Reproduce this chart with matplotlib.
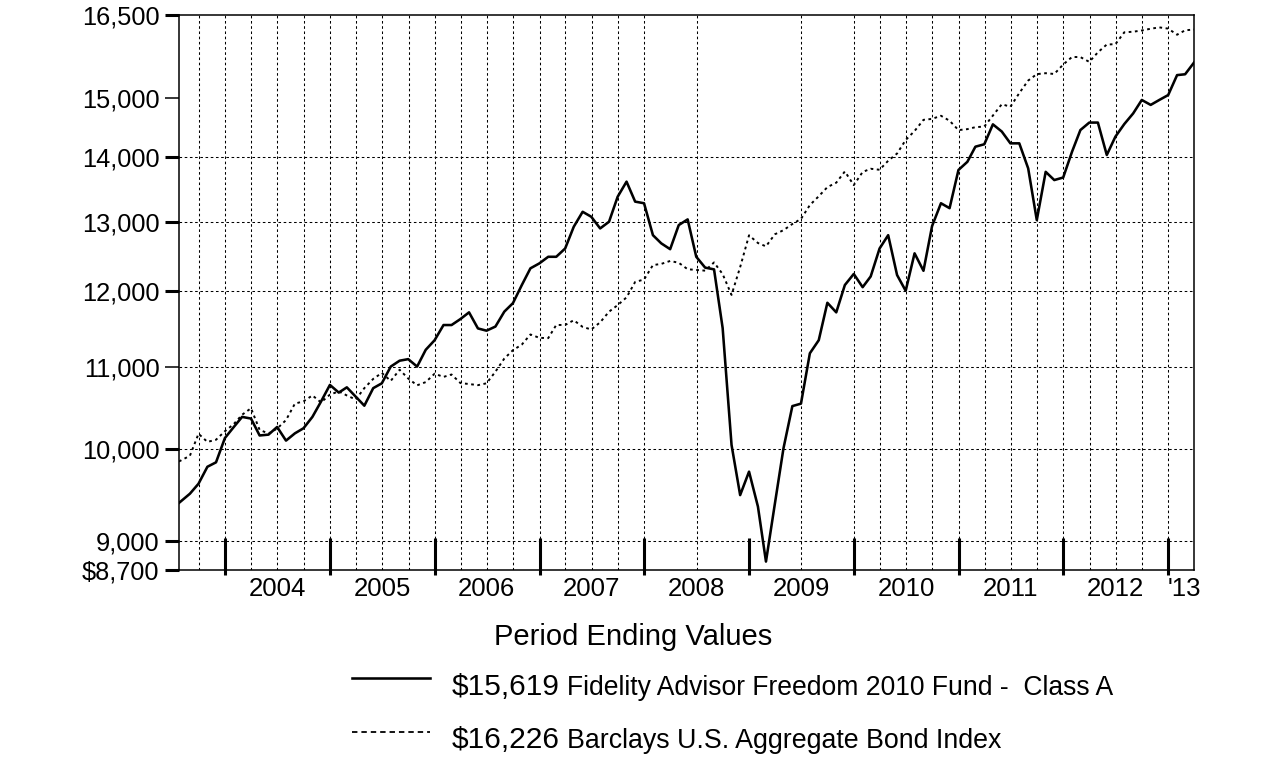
"""
Fidelity Advisor Freedom 2010 Fund - Class A と Barclays U.S. Aggregate Bond Index の
$10,000 投資の推移（対数目盛）を再現する。
"""

import matplotlib

matplotlib.use("Agg")
import matplotlib.pyplot as plt
import pandas as pd
from matplotlib.lines import Line2D
from matplotlib.ticker import NullLocator

plt.rcParams["font.family"] = ["Liberation Sans", "DejaVu Sans"]

# 期間: 設定日 2003-07-24 のあと、2003年8月〜2013年3月の月末
START_DATE = "2003-07-24"
END_DATE = "2013-03-31"

fund_values = [
    9400,
    9500, 9610, 9800, 9850, 10130,
    10260, 10380, 10360, 10160, 10170, 10260, 10100, 10185, 10245, 10380, 10565, 10770,
    10675, 10740, 10625, 10515, 10730, 10790, 11000, 11075, 11095, 11000, 11215, 11340,
    11540, 11540, 11620, 11710, 11495, 11465, 11520, 11720, 11835, 12085, 12320, 12390,
    12485, 12485, 12605, 12925, 13150, 13075, 12900, 13000, 13380, 13615, 13305, 13280,
    12800, 12680, 12595, 12950, 13035, 12485, 12330, 12305, 11500, 10050, 9485, 9745,
    9360, 8785, 9390, 10010, 10510, 10540, 11170, 11340, 11840, 11710, 12085, 12240,
    12055, 12205, 12605, 12800, 12225, 12005, 12535, 12285, 12935, 13280, 13205, 13800,
    13930, 14175, 14215, 14545, 14425, 14230, 14230, 13825, 13025, 13770, 13640, 13680,
    14095, 14450, 14575, 14575, 14040, 14340, 14550, 14730, 14960, 14875, 14960, 15045,
    15395, 15410, 15619,
]

index_values = [
    9860,
    9925, 10180, 10085, 10110, 10210,
    10295, 10406, 10484, 10226, 10183, 10241, 10342, 10540, 10568, 10640, 10555, 10650,
    10690, 10640, 10590, 10730, 10845, 10920, 10820, 10960, 10850, 10765, 10805, 10910,
    10870, 10900, 10793, 10781, 10767, 10790, 10936, 11103, 11210, 11283, 11415, 11371,
    11367, 11541, 11541, 11604, 11515, 11481, 11576, 11719, 11808, 11914, 12128, 12162,
    12366, 12383, 12425, 12399, 12307, 12297, 12287, 12404, 12238, 11948, 12337, 12798,
    12685, 12636, 12813, 12874, 12966, 13042, 13252, 13388, 13529, 13599, 13776, 13561,
    13768, 13819, 13803, 13947, 14064, 14285, 14434, 14621, 14637, 14690, 14606, 14449,
    14465, 14498, 14508, 14693, 14887, 14843, 15079, 15299, 15412, 15429, 15415, 15584,
    15721, 15718, 15632, 15805, 15948, 15954, 16174, 16185, 16208, 16241, 16266, 16243,
    16129, 16211, 16226,
]

y_ticks = [8700, 9000, 10000, 11000, 12000, 13000, 14000, 15000, 16500]
y_tick_labels = ["$8,700", "9,000", "10,000", "11,000", "12,000", "13,000",
                 "14,000", "15,000", "16,500"]
thin_y_ticks = [11000, 15000]
y_grid_values = [9000, 10000, 11000, 12000, 13000, 14000]

year_labels = ["2004", "2005", "2006", "2007", "2008", "2009",
               "2010", "2011", "2012", "'13"]
year_label_dates = [f"{y}-07-01" for y in range(2004, 2013)] + ["2013-02-25"]
year_tick_dates = [f"{y}-01-01" for y in range(2004, 2014)]
# 2008〜2009 は縦グリッドが半年おき
skipped_grid_dates = ["2008-04-01", "2008-10-01", "2009-01-01", "2009-04-01", "2009-10-01"]

fund_label = "Fidelity Advisor Freedom 2010 Fund -  Class A"
index_label = "Barclays U.S. Aggregate Bond Index"
fund_end_text = "$15,619"
index_end_text = "$16,226"

W, H = 1276, 783


def fx(px):
    return px / W


def fy(py):
    return 1 - py / H


def main():
    dates = pd.DatetimeIndex([pd.Timestamp(START_DATE)]).append(
        pd.date_range("2003-08-31", END_DATE, freq="ME"))

    fig = plt.figure(figsize=(W / 100, H / 100), dpi=100)
    ax = fig.add_axes([fx(179), fy(570), (1194 - 179) / W, (570 - 15) / H])

    # グリッド
    for v in y_grid_values:
        ax.axhline(v, color="black", lw=0.75, dashes=(2.5, 2.5), zorder=1)
    skipped = set(pd.to_datetime(skipped_grid_dates))
    for d in pd.date_range("2003-10-01", "2013-01-01", freq="QS"):
        if d not in skipped:
            ax.axvline(d, color="black", lw=0.75, dashes=(2.5, 2.5), zorder=1)

    ax.plot(dates, index_values, color="black", lw=1.4, dashes=(1.4, 1.8), zorder=3)
    ax.plot(dates, fund_values, color="black", lw=1.85, zorder=4)

    ax.set_yscale("log")
    ax.set_ylim(8700, 16500)
    ax.set_xlim(pd.Timestamp(START_DATE), pd.Timestamp(END_DATE))

    ax.yaxis.set_minor_locator(NullLocator())
    ax.set_yticks(y_ticks, labels=y_tick_labels)
    ax.tick_params(axis="y", which="major", direction="out", length=10, width=2.2,
                   pad=4, labelsize=18.3)
    for tick, v in zip(ax.yaxis.get_major_ticks(), y_ticks):
        if v in thin_y_ticks:
            tick.tick1line.set_markeredgewidth(1.1)

    # 年ラベルは年の中央、年の区切りは太い縦線
    ax.set_xticks([])
    ax.xaxis.set_minor_locator(NullLocator())
    ax.set_xticks(pd.to_datetime(year_label_dates), labels=year_labels, minor=True)
    ax.tick_params(axis="x", which="minor", length=0, pad=5, labelsize=18.5)
    ax.vlines(pd.to_datetime(year_tick_dates), -0.009, 0.057, color="black", lw=2.2,
              transform=ax.get_xaxis_transform(), clip_on=False, zorder=5)

    for spine in ax.spines.values():
        spine.set_linewidth(1.1)

    # 凡例（図の下に手書き）
    fig.text(fx(633), fy(645), "Period Ending Values", ha="center", va="baseline",
             fontsize=21)
    fig.add_artist(Line2D([fx(352), fx(430)], [fy(678), fy(678)], color="black",
                          lw=1.85, transform=fig.transFigure))
    fig.add_artist(Line2D([fx(352), fx(430)], [fy(732), fy(732)], color="black",
                          lw=1.3, dashes=(3, 2.2), transform=fig.transFigure))
    fig.text(fx(452), fy(695), fund_end_text, va="baseline", fontsize=21.5)
    fig.text(fx(567), fy(695), fund_label, va="baseline", fontsize=19.1)
    fig.text(fx(452), fy(748), index_end_text, va="baseline", fontsize=21.5)
    fig.text(fx(567), fy(748), index_label, va="baseline", fontsize=19.3)

    fig.savefig("out.png", dpi=100)
    plt.close(fig)


if __name__ == "__main__":
    main()
